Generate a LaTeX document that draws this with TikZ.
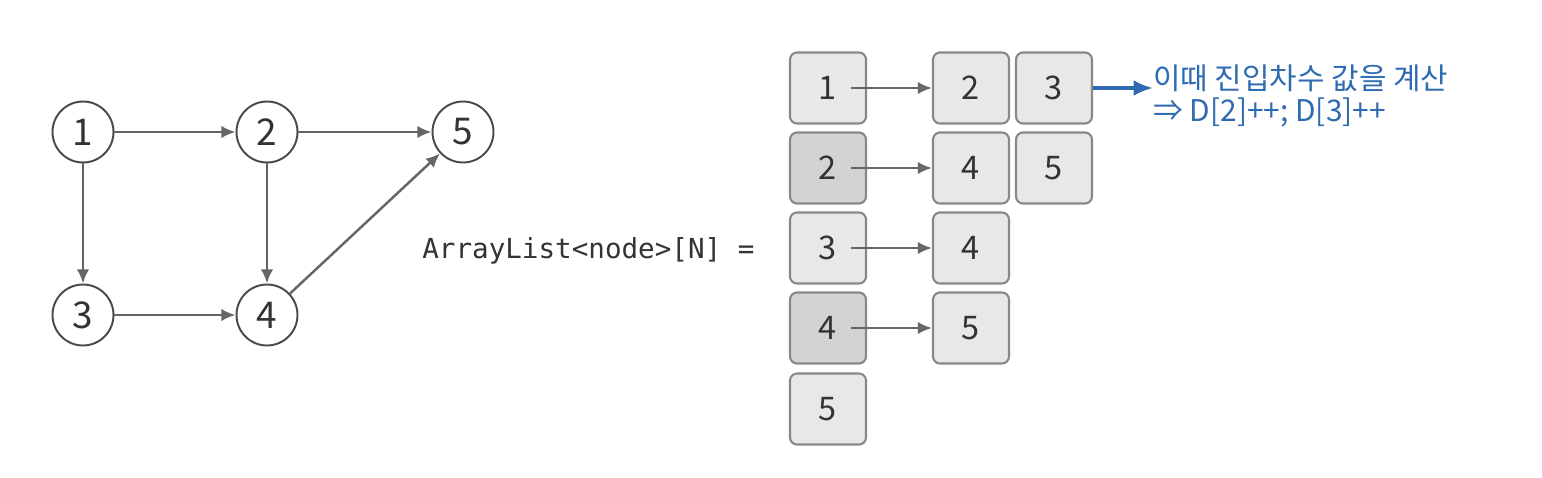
\documentclass[tikz,border=0pt]{standalone}
\usepackage{fontspec}
\setmainfont{Noto Sans CJK KR}
\setmonofont{DejaVu Sans Mono}
\usetikzlibrary{arrows.meta}

\definecolor{edgegray}{HTML}{666666}
\definecolor{ringgray}{HTML}{4A4A4A}
\definecolor{boxline}{HTML}{888888}
\definecolor{cellfill}{HTML}{E8E8E8}
\definecolor{darkfill}{HTML}{D3D3D3}
\definecolor{noteblue}{HTML}{2F6BB0}
\definecolor{inkgray}{HTML}{333333}

\begin{document}
\begin{tikzpicture}[x=0.02cm, y=-0.02cm,
    vertex/.style={circle, draw=ringgray, line width=1.1pt, fill=white, text=inkgray,
        minimum size=1.22cm, inner sep=0pt, font=\fontsize{21}{21}\selectfont},
    edge/.style={draw=edgegray, line width=1.4pt, -{Latex[length=8pt,width=7pt]}},
    cell/.style={draw=boxline, line width=1.2pt, rounded corners=4pt, fill=cellfill, text=inkgray,
        minimum width=1.52cm, minimum height=1.42cm, inner sep=0pt, font=\fontsize{18.5}{18.5}\selectfont},
    darkcell/.style={cell, fill=darkfill},
    note/.style={text=noteblue, anchor=west, inner sep=0pt, font=\fontsize{17}{17}\selectfont}]

    \useasboundingbox (0,0) rectangle (1542,477);

    % Draw the graph
    \node[vertex] (v1) at (83,132) {1};
    \node[vertex] (v2) at (267,132) {2};
    \node[vertex] (v5) at (463,132) {5};
    \node[vertex] (v3) at (83,315) {3};
    \node[vertex] (v4) at (267,315) {4};

    \draw[edge] (v1) -- (v2);
    \draw[edge] (v2) -- (v5);
    \draw[edge] (v1) -- (v3);
    \draw[edge] (v2) -- (v4);
    \draw[edge] (v3) -- (v4);
    \draw[edge] (v4) -- (v5);

    % Draw the adjacency list
    \node[text=inkgray, anchor=west, inner sep=0pt, font=\ttfamily\fontsize{15.7}{16}\selectfont]
        (alist) at (422,251) {ArrayList<node>[N] =};

    \node[cell] (h1) at (828,88) {1};
    \node[darkcell] (h2) at (828,168) {2};
    \node[cell] (h3) at (828,248) {3};
    \node[darkcell] (h4) at (828,328) {4};
    \node[cell] (h5) at (828,409) {5};

    \node[cell] (c12) at (971,88) {2};
    \node[cell] (c13) at (1054,88) {3};
    \node[cell] (c24) at (971,168) {4};
    \node[cell] (c25) at (1054,168) {5};
    \node[cell] (c34) at (971,248) {4};
    \node[cell] (c45) at (971,328) {5};

    \draw[edge] ([xshift=0.46cm]h1.center) -- (c12);
    \draw[edge] ([xshift=0.46cm]h2.center) -- (c24);
    \draw[edge] ([xshift=0.46cm]h3.center) -- (c34);
    \draw[edge] ([xshift=0.46cm]h4.center) -- (c45);

    % Draw the in-degree note
    \node[note] (note1) at (1153,78) {이때 진입차수 값을 계산};
    \node[note] (note2) at (1153,113) {⇒ D[2]++; D[3]++};
    \draw[draw=noteblue, line width=2pt, -{Latex[length=11pt,width=9pt]}]
        (c13.east) -- (c13.east -| note1.west);
\end{tikzpicture}
\end{document}
